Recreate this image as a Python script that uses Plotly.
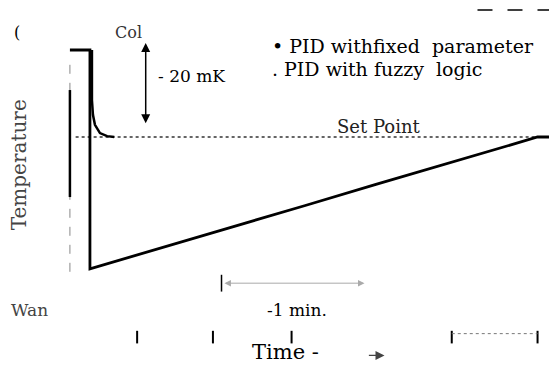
import plotly.graph_objects as go

# time in minutes, temperature deviation from set point in mK
fixed_t = [-0.14, 0.0, 0.0, 0.5, 1.0, 1.5, 2.0, 2.5, 3.13, 3.27]
fixed_T = [20.0, 20.0, -30.3, -25.5, -20.6, -15.8, -10.9, -6.1, 0.0, 0.0]
fuzzy_t = [0.014, 0.014, 0.021, 0.035, 0.07, 0.12, 0.17]
fuzzy_T = [20.0, 8.5, 5.1, 2.8, 0.9, 0.2, 0.0]
setpoint_t = [-0.10, 3.27]
setpoint_T = [0.0, 0.0]
frame_thin_t = [-0.14, -0.14]
frame_thin_T = [16.6, -31.3]
frame_thick_t = [-0.14, -0.14]
frame_thick_T = [10.8, -13.8]
tick_t = [0.33, 0.86, 1.41, 2.53, 3.13]
tick_T = [-46.0] * 5
tick_line_t = [2.53, 3.13]
tick_line_T = [-45.2, -45.2]
top_line_t = [2.71, 3.24]
top_line_T = [29.2, 29.2]
min_bar_t = [0.92]
min_bar_T = [-33.6]

fig = go.Figure()
fig.add_trace(go.Scatter(x=setpoint_t, y=setpoint_T, mode="lines",
                         line=dict(color="#333", width=1.3, dash="dot")))
fig.add_trace(go.Scatter(x=frame_thin_t, y=frame_thin_T, mode="lines",
                         line=dict(color="#888", width=1, dash="dash")))
fig.add_trace(go.Scatter(x=frame_thick_t, y=frame_thick_T, mode="lines",
                         line=dict(color="black", width=2.5)))
fig.add_trace(go.Scatter(x=fixed_t, y=fixed_T, mode="lines",
                         line=dict(color="black", width=2.8)))
fig.add_trace(go.Scatter(x=fuzzy_t, y=fuzzy_T, mode="lines",
                         line=dict(color="black", width=2.5)))
fig.add_trace(go.Scatter(x=tick_t, y=tick_T, mode="markers",
                         marker=dict(symbol="line-ns", size=9, line=dict(color="black", width=2))))
fig.add_trace(go.Scatter(x=tick_line_t, y=tick_line_T, mode="lines",
                         line=dict(color="#777", width=1, dash="dot")))
fig.add_trace(go.Scatter(x=top_line_t, y=top_line_T, mode="lines",
                         line=dict(color="black", width=1.5, dash="longdash")))
fig.add_trace(go.Scatter(x=min_bar_t, y=min_bar_T, mode="markers",
                         marker=dict(symbol="line-ns", size=12, line=dict(color="black", width=1.5))))

serif = "DejaVu Serif"
ann = []
# 20 mK arrow
ann.append(dict(x=0.39, y=21.6, ax=0.39, ay=2.8, xref="x", yref="y", axref="x", ayref="y",
                showarrow=True, arrowhead=2, arrowside="end+start", arrowwidth=1.5,
                arrowsize=1.2, arrowcolor="black", text=""))
# 1 min arrow
ann.append(dict(x=1.92, y=-33.6, ax=0.93, ay=-33.6, xref="x", yref="y", axref="x", ayref="y",
                showarrow=True, arrowhead=2, arrowside="end+start", arrowwidth=1,
                arrowsize=1.3, arrowcolor="#aaa", text=""))
# Time arrow
ann.append(dict(x=2.06, y=-50.2, ax=1.94, ay=-50.2, xref="x", yref="y", axref="x", ayref="y",
                showarrow=True, arrowhead=2, arrowwidth=1.2, arrowsize=1.5,
                arrowcolor="#444", text=""))

def txt(x, y, s, size, xanchor="center", angle=0, color="black"):
    ann.append(dict(x=x, y=y, xref="x", yref="y", text=s, showarrow=False,
                    xanchor=xanchor, yanchor="middle", textangle=angle,
                    font=dict(family=serif, size=size, color=color)))

txt(-0.51, 24.1, "(", 16)
txt(0.27, 24.1, "Col", 16, color="#333")
txt(0.46, 14.0, "- 20 mK", 17, xanchor="left")
txt(1.26, 21.0, "• PID withfixed  parameter", 19, xanchor="left")
txt(1.26, 15.7, ". PID with fuzzy  logic", 19, xanchor="left")
txt(2.02, 2.4, "Set Point", 18, color="#222")
txt(-0.50, -6.4, "Temperature", 20, angle=-90, color="#444")
txt(-0.42, -39.7, "Wan", 17, color="#444")
txt(1.45, -39.7, "-1 min.", 17)
txt(1.37, -49.4, "Time -", 21)

fig.update_layout(
    width=549, height=363, margin=dict(l=0, r=0, t=0, b=0),
    paper_bgcolor="white", plot_bgcolor="white", showlegend=False,
    xaxis=dict(range=[-0.573, 3.266], visible=False, fixedrange=True),
    yaxis=dict(range=[-53.79, 29.66], visible=False, fixedrange=True),
    annotations=ann,
)
fig.write_html("out.html")
